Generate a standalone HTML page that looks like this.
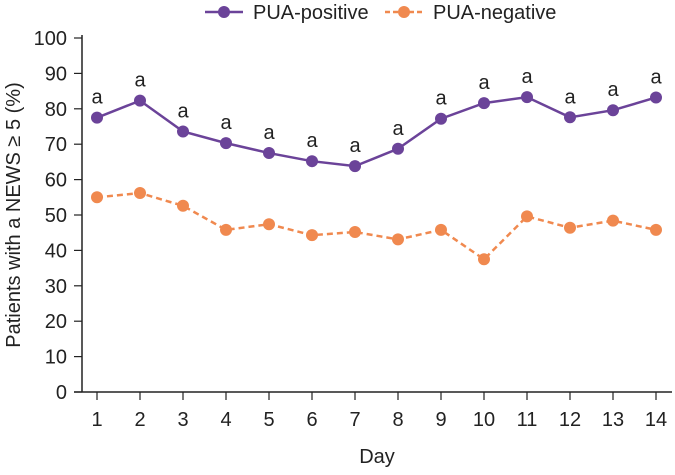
<!DOCTYPE html>
<html><head><meta charset="utf-8"><style>
body{margin:0;background:#fff;}
svg text{font-family:"Liberation Sans",sans-serif;fill:#222;}
</style></head><body>
<svg id="c" width="675" height="470"></svg>
<script>
const days=[1,2,3,4,5,6,7,8,9,10,11,12,13,14];
const positive=[77.5,82.3,73.6,70.3,67.5,65.2,63.8,68.7,77.2,81.6,83.3,77.6,79.6,83.2];
const negative=[55,56.2,52.6,45.8,47.4,44.3,45.2,43.1,45.8,37.5,49.6,46.4,48.4,45.8];
const sigLabels=["a","a","a","a","a","a","a","a","a","a","a","a","a","a"];
const yTicks=[0,10,20,30,40,50,60,70,80,90,100];
const NS='http://www.w3.org/2000/svg';
const svg=document.getElementById('c');
const X=d=>97+(d-1)*43, Y=v=>392-v*3.54;
function mk(t,a){const e=document.createElementNS(NS,t);for(const k in a)e.setAttribute(k,a[k]);svg.appendChild(e);return e;}
let e;
e=mk('line',{x1:82,y1:35,x2:82,y2:392,stroke:'#222','stroke-width':1.5});


e=mk('line',{x1:74,y1:392,x2:672,y2:392,stroke:'#222','stroke-width':1.5});


yTicks.forEach(v=>{
 mk('line',{x1:74,x2:82,y1:Y(v),y2:Y(v),stroke:'#222','stroke-width':1.2});
 e=mk('text',{x:67,y:Y(v)+7,'text-anchor':'end','font-size':20});e.textContent=v;
 
 
});
days.forEach(d=>{
 mk('line',{x1:X(d),x2:X(d),y1:392,y2:400,stroke:'#222','stroke-width':1.2});
 e=mk('text',{x:X(d),y:426,'text-anchor':'middle','font-size':20});e.textContent=d;
 
 
});
e=mk('text',{x:377,y:463,'text-anchor':'middle','font-size':20});e.textContent='Day';


e=mk('text',{x:0,y:0,'text-anchor':'middle','font-size':20,transform:'translate(20,215) rotate(-90)'});e.textContent='Patients with a NEWS ≥ 5 (%)';


e=mk('polyline',{points:negative.map((v,i)=>X(days[i])+','+Y(v)).join(' '),fill:'none',stroke:'#f0894f','stroke-width':2.5,'stroke-dasharray':'6,4'});


negative.forEach((v,i)=>{e=mk('circle',{cx:X(days[i]),cy:Y(v),r:6,fill:'#f0894f'});
 
 });
e=mk('polyline',{points:positive.map((v,i)=>X(days[i])+','+Y(v)).join(' '),fill:'none',stroke:'#6b4399','stroke-width':2.5});


positive.forEach((v,i)=>{e=mk('circle',{cx:X(days[i]),cy:Y(v),r:6,fill:'#6b4399'});
 
 
 const t=mk('text',{x:X(days[i]),y:Y(v)-14,'text-anchor':'middle','font-size':20});t.textContent=sigLabels[i];
 
 });
e=mk('line',{x1:205,x2:243,y1:12,y2:12,stroke:'#6b4399','stroke-width':2.5});


mk('circle',{cx:224,cy:12,r:6,fill:'#6b4399'});
e=mk('text',{x:253,y:19,'font-size':20});e.textContent='PUA-positive';


e=mk('line',{x1:385,x2:423,y1:12,y2:12,stroke:'#f0894f','stroke-width':2.5,'stroke-dasharray':'5,3'});


mk('circle',{cx:404,cy:12,r:6,fill:'#f0894f'});
e=mk('text',{x:433,y:19,'font-size':20});e.textContent='PUA-negative';


</script>
</body></html>
